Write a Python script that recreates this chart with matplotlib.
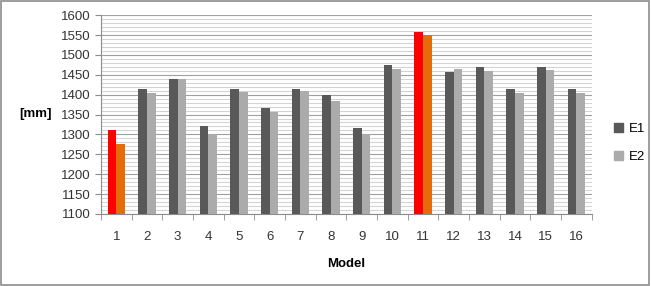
import numpy as np
import matplotlib.pyplot as plt
from matplotlib.patches import Rectangle

models = [str(i) for i in range(1, 17)]
e1 = [1310, 1415, 1440, 1320, 1413, 1367, 1413, 1400, 1315, 1475, 1557, 1458, 1470, 1415, 1470, 1415]
e2 = [1275, 1405, 1440, 1300, 1407, 1357, 1410, 1385, 1300, 1465, 1550, 1465, 1460, 1405, 1462, 1405]
highlight = [0, 10]  # models 1 and 11 drawn in red/orange

plt.rcParams['font.family'] = ['Liberation Sans', 'DejaVu Sans']

fig = plt.figure(figsize=(6.51, 2.86), dpi=100)
ax = fig.add_axes([0.155, 0.252, 0.754, 0.695])

x = np.arange(len(models))
w = 0.28
c1 = ['#ff0000' if i in highlight else '#595959' for i in x]
c2 = ['#e46c0a' if i in highlight else '#ababab' for i in x]
ax.bar(x - w / 2, [v - 1100 for v in e1], w, bottom=1100, color=c1, zorder=3)
ax.bar(x + w / 2, [v - 1100 for v in e2], w, bottom=1100, color=c2, zorder=3)

# legend uses the normal grey colours
h1 = Rectangle((0, 0), 1, 1, color='#595959')
h2 = Rectangle((0, 0), 1, 1, color='#ababab')
fig.legend([h1, h2], ['E1', 'E2'], loc='center left', bbox_to_anchor=(0.925, 0.5),
           frameon=False, fontsize=9.5, handlelength=0.7, handleheight=0.7,
           handletextpad=0.4, labelspacing=1.2)

ax.set_ylim(1100, 1600)
ax.set_xlim(-0.5, len(models) - 0.5)
ax.set_yticks(np.arange(1100, 1601, 50))
ax.set_yticks(np.arange(1100, 1601, 10), minor=True)
ax.grid(axis='y', which='major', color='#a0a0a0', lw=0.8, zorder=0)
ax.grid(axis='y', which='minor', color='#d4d4d4', lw=0.8, zorder=0)

ax.set_xticks(x)
ax.set_xticklabels(models)
ax.set_xticks(np.arange(-0.5, len(models), 1), minor=True)
ax.tick_params(axis='x', which='major', length=0, pad=12, labelsize=9.5, colors='#333333')
ax.tick_params(axis='x', which='minor', length=4, color='#8c8c8c')
ax.tick_params(axis='y', which='major', length=4, color='#8c8c8c', labelsize=9.5, labelcolor='#333333')
ax.tick_params(axis='y', which='minor', length=0)

for s in ['top', 'right']:
    ax.spines[s].set_visible(False)
for s in ['left', 'bottom']:
    ax.spines[s].set_color('#8c8c8c')

ax.set_xlabel('Model', fontsize=9.5, fontweight='bold', labelpad=11)
fig.text(0.054, 0.6, '[mm]', fontsize=9.5, fontweight='bold', ha='center', va='center')

fig.add_artist(Rectangle((0.002, 0.004), 0.995, 0.992, transform=fig.transFigure,
                         fill=False, ec='#8c8c8c', lw=1.2))

fig.savefig('out.png', dpi=100)
